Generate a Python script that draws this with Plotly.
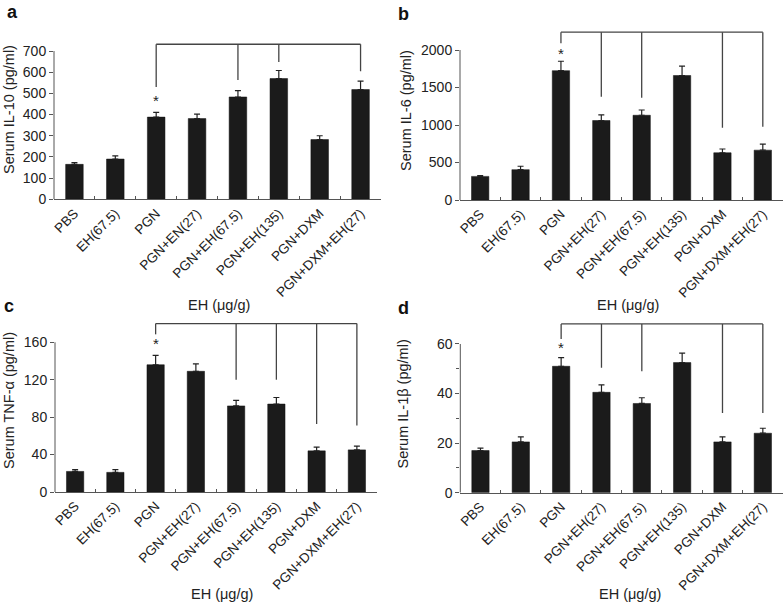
import plotly.graph_objects as go

# ---------------- data ----------------
cats_a = ["PBS", "EH(67.5)", "PGN", "PGN+EN(27)", "PGN+EH(67.5)", "PGN+EH(135)", "PGN+DXM", "PGN+DXM+EH(27)"]
cats = ["PBS", "EH(67.5)", "PGN", "PGN+EH(27)", "PGN+EH(67.5)", "PGN+EH(135)", "PGN+DXM", "PGN+DXM+EH(27)"]

il10 = [165, 190, 388, 381, 483, 570, 282, 518]
il10_err = [8, 15, 22, 21, 30, 38, 18, 40]

il6 = [315, 405, 1725, 1060, 1130, 1660, 630, 665]
il6_err = [10, 45, 125, 75, 70, 125, 50, 80]

tnf = [22, 21, 136, 129, 92, 94, 44, 45]
tnf_err = [2, 3, 10, 8, 6, 7, 4, 4]

il1b = [17, 20.5, 51, 40.5, 36, 52.5, 20.5, 24]
il1b_err = [1, 2, 3.5, 3, 2.3, 3.8, 2, 2]

ytitles = ["Serum IL-10 (pg/ml)", "Serum IL-6 (pg/ml)", "Serum TNF-\u03b1 (pg/ml)", "Serum IL-1\u03b2 (pg/ml)"]
xtitle = "EH (\u03bcg/g)"
letters = ["a", "b", "c", "d"]

ticks_a = [0, 100, 200, 300, 400, 500, 600, 700]
ticks_b = [0, 500, 1000, 1500, 2000]
ticks_c = [0, 40, 80, 120, 160]
ticks_d = [0, 20, 40, 60]
minor_d = [10, 30, 50]

# significance brackets: (category indices, drop-end levels, top level, star level)
br_a_idx = [2, 4, 5, 7]
br_a_low = [530, 563, 648, 605]
br_a_top = 732
star_a = 484

br_b_idx = [2, 3, 4, 6, 7]
br_b_low = [2090, 1378, 1365, 964, 977]
br_b_top = 2237
star_b = 2010

br_c_idx = [2, 4, 5, 6, 7]
br_c_low = [168.5, 120, 120, 72.7, 71]
br_c_top = 180
star_c = 162.5

br_d_idx = [2, 3, 4, 6, 7]
br_d_low = [62, 50.4, 49, 32.2, 32.2]
br_d_top = 68.1
star_d = 60.3

# ---------------- layout geometry ----------------
W, H = 784, 604
FONT = "Liberation Sans, Arial, sans-serif"
AXC = "#555555"
TXT = "#222222"


def fx(px):
    return px / W


def fy(py):
    return 1 - py / H


panels = [
    dict(cats=cats_a, y=il10, e=il10_err, ticks=ticks_a, rng=[0, 760],
         xpx=(54, 381), ypx=(199.3, 38.3), bi=br_a_idx, bl=br_a_low, bt=br_a_top, st=star_a,
         ytx=(9, 110), xtx=(219, 305), let=(12.5, 11.5)),
    dict(cats=cats, y=il6, e=il6_err, ticks=ticks_b, rng=[0, 2300],
         xpx=(460, 783), ypx=(200, 27.5), bi=br_b_idx, bl=br_b_low, bt=br_b_top, st=star_b,
         ytx=(406, 111), xtx=(628, 305), let=(404, 14)),
    dict(cats=cats, y=tnf, e=tnf_err, ticks=ticks_c, rng=[0, 185],
         xpx=(55, 377), ypx=(492, 318.9), bi=br_c_idx, bl=br_c_low, bt=br_c_top, st=star_c,
         ytx=(9, 401), xtx=(222, 594), let=(8.7, 306)),
    dict(cats=cats, y=il1b, e=il1b_err, ticks=ticks_d, rng=[0, 70],
         xpx=(460.3, 783), ypx=(492.7, 319.2), bi=br_d_idx, bl=br_d_low, bt=br_d_top, st=star_d,
         ytx=(402.5, 404), xtx=(630, 594), let=(404, 308), minor=minor_d),
]

fig = go.Figure()
shapes = []
annotations = []

for k, p in enumerate(panels):
    n = "" if k == 0 else str(k + 1)
    xa, ya = "x" + n, "y" + n
    fig.add_trace(go.Bar(
        x=p["cats"], y=p["y"], xaxis=xa, yaxis=ya,
        marker=dict(color="#1b1b1b", line=dict(color="#111111", width=0.5)),
        width=0.43,
        error_y=dict(type="data", array=p["e"], arrayminus=[0] * len(p["e"]),
                     color="#222222", thickness=1.2, width=3),
        showlegend=False, hoverinfo="skip",
    ))
    xdom = [fx(p["xpx"][0]), fx(p["xpx"][1])]
    ydom = [fy(p["ypx"][0]), fy(p["ypx"][1])]
    xaxis = dict(domain=xdom, anchor=ya, type="category", range=[-0.5, 7.5], automargin=False,
                 showline=True, linecolor=AXC, linewidth=1, showgrid=False, zeroline=False,
                 tickson="boundaries", ticks="inside", ticklen=3, tickcolor=AXC,
                 tickangle=-45, tickfont=dict(family=FONT, size=13.5, color=TXT))
    yaxis = dict(domain=ydom, anchor=xa, range=p["rng"], showline=False, showgrid=False,
                 automargin=False,
                 zeroline=False, tickvals=p["ticks"], ticks="outside", ticklen=4,
                 tickcolor=AXC, tickfont=dict(family=FONT, size=14, color=TXT))
    if "minor" in p:
        yaxis["minor"] = dict(tickvals=p["minor"], ticks="outside", ticklen=3, tickcolor=AXC)
    fig.update_layout(**{"xaxis" + n: xaxis, "yaxis" + n: yaxis})

    # y-axis line up to the top tick
    shapes.append(dict(type="line", xref=xa + " domain", yref=ya, x0=0, x1=0,
                       y0=0, y1=p["ticks"][-1], line=dict(color=AXC, width=1)))
    # bracket
    lc = "#444444"
    shapes.append(dict(type="line", xref=xa, yref=ya, x0=p["bi"][0], x1=p["bi"][-1],
                       y0=p["bt"], y1=p["bt"], line=dict(color=lc, width=1.3)))
    for i, lo in zip(p["bi"], p["bl"]):
        shapes.append(dict(type="line", xref=xa, yref=ya, x0=i, x1=i,
                           y0=lo, y1=p["bt"], line=dict(color=lc, width=1.3)))
    # star
    annotations.append(dict(text="*", x=2, y=p["st"], xref=xa, yref=ya, showarrow=False,
                            yshift=-4, font=dict(family=FONT, size=15, color=TXT)))
    # y title
    annotations.append(dict(text=ytitles[k], x=fx(p["ytx"][0]), y=fy(p["ytx"][1]),
                            xref="paper", yref="paper", textangle=-90, showarrow=False,
                            xanchor="center", yanchor="middle",
                            font=dict(family=FONT, size=14.5, color=TXT)))
    # x title
    annotations.append(dict(text=xtitle, x=fx(p["xtx"][0]), y=fy(p["xtx"][1]),
                            xref="paper", yref="paper", showarrow=False,
                            xanchor="center", yanchor="middle",
                            font=dict(family=FONT, size=14.5, color=TXT)))
    # panel letter
    annotations.append(dict(text="<b>" + letters[k] + "</b>", x=fx(p["let"][0]), y=fy(p["let"][1]),
                            xref="paper", yref="paper", showarrow=False,
                            xanchor="center", yanchor="middle", borderpad=0,
                            font=dict(family=FONT, size=18, color="#111111")))

fig.update_layout(template="none", width=W, height=H, margin=dict(l=0, r=0, t=0, b=0),
                  paper_bgcolor="white", plot_bgcolor="white", hovermode=False,
                  modebar=dict(bgcolor="rgba(0,0,0,0)", color="rgba(0,0,0,0)",
                               activecolor="rgba(0,0,0,0)"),
                  shapes=shapes, annotations=annotations, bargap=0.5)

fig.write_html("out.html", config={"displayModeBar": False},
               post_script="document.body.style.margin='0px';")
